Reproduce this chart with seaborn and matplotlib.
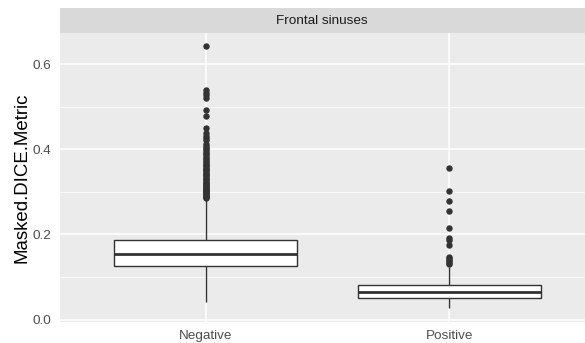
import matplotlib
matplotlib.use("Agg")
import matplotlib.pyplot as plt
import seaborn as sns
import pandas as pd
import numpy as np

# ---- data ----
categories = ["Negative", "Positive"]
# five-number values describing each box (lower whisker, Q1, median, Q3, upper whisker)
neg_box = [0.042, 0.125, 0.155, 0.188, 0.280]
pos_box = [0.026, 0.051, 0.064, 0.081, 0.124]
# outliers
neg_out = [0.285, 0.287, 0.289, 0.291, 0.293, 0.295, 0.297, 0.299, 0.301, 0.303,
           0.305, 0.307, 0.309, 0.311, 0.313, 0.315, 0.318, 0.321, 0.324, 0.327,
           0.330, 0.333, 0.336, 0.339, 0.342, 0.345, 0.348, 0.351, 0.354, 0.357,
           0.360, 0.363, 0.366, 0.369, 0.372, 0.376, 0.380, 0.384, 0.388, 0.392,
           0.396, 0.400, 0.404, 0.408, 0.412, 0.422, 0.427, 0.432, 0.437,
           0.451, 0.478, 0.493, 0.520, 0.527, 0.533, 0.539, 0.642]
pos_out = [0.131, 0.134, 0.137, 0.140, 0.144, 0.148, 0.174, 0.186, 0.192, 0.216,
           0.256, 0.279, 0.303, 0.357]
y_ticks = [0.0, 0.2, 0.4, 0.6]
y_minor = [0.1, 0.3, 0.5]
y_label = "Masked.DICE.Metric"
strip_title = "Frontal sinuses"

box_df = pd.DataFrame({
    "group": [categories[0]] * len(neg_box) + [categories[1]] * len(pos_box),
    "value": neg_box + pos_box,
})
out_df = pd.DataFrame({
    "group": [categories[0]] * len(neg_out) + [categories[1]] * len(pos_out),
    "value": neg_out + pos_out,
})

sns.set_theme(style="white")
plt.rcParams["font.family"] = ["Liberation Sans", "DejaVu Sans"]

W, H = 585, 343
fig = plt.figure(figsize=(W / 100, H / 100), dpi=100)
left = 59.5 / W
bottom = (H - 321.7) / H
top = (H - 33) / H
ax = fig.add_axes([left, bottom, 1 - left, top - bottom])
ax.set_facecolor("#EBEBEB")

sns.boxplot(data=box_df, x="group", y="value", order=categories, ax=ax,
            color="white", linecolor="#333333", linewidth=1.0, width=0.75,
            showfliers=False, showcaps=False, whis=1.5, saturation=1,
            medianprops=dict(linewidth=2.0, color="#333333"), zorder=3)
sns.stripplot(data=out_df, x="group", y="value", order=categories, ax=ax,
              jitter=False, color="#333333", size=4.6, linewidth=0, zorder=4)

ax.set_xlim(-0.6, 1.557)
ax.set_ylim(-0.005, 0.673)
ax.set_yticks(y_ticks)
ax.set_yticklabels([f"{t:.1f}" for t in y_ticks])
ax.set_yticks(y_minor, minor=True)
ax.grid(True, which="major", color="white", linewidth=1.1, zorder=0)
ax.grid(True, which="minor", axis="y", color="white", linewidth=0.55, zorder=0)
ax.set_axisbelow(True)
for s in ax.spines.values():
    s.set_visible(False)
ax.tick_params(axis="both", which="major", length=3.5, width=1.0, color="#333333",
               labelsize=9.7, labelcolor="#4D4D4D", pad=2.5)
ax.tick_params(axis="both", which="minor", length=0)
ax.set_xlabel("")
ax.set_ylabel(y_label, fontsize=13.4, color="black", labelpad=1)

# facet strip
sax = fig.add_axes([left, top, 1 - left, 25 / H])
sax.set_facecolor("#D9D9D9")
sax.set_xticks([])
sax.set_yticks([])
for s in sax.spines.values():
    s.set_visible(False)
sax.text(0.5, 0.5, strip_title, ha="center", va="center", fontsize=9.7,
         color="#1A1A1A", transform=sax.transAxes)

fig.savefig("out.png", dpi=100, facecolor="white")
